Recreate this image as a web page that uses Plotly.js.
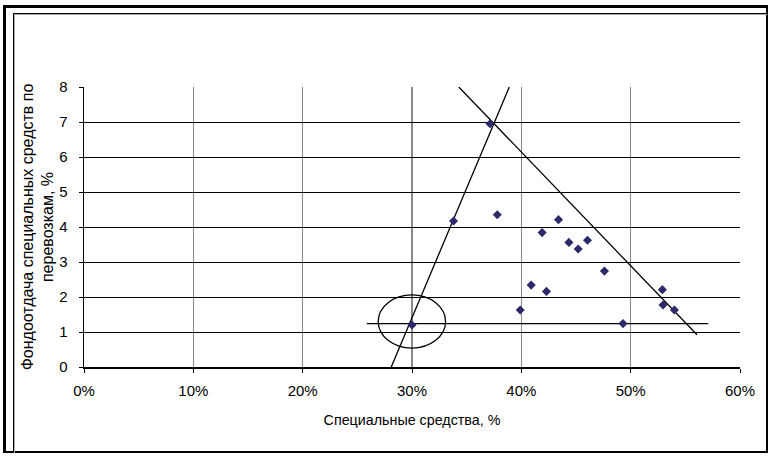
<!DOCTYPE html>
<html>
<head>
<meta charset="utf-8">
<script src="https://cdn.plot.ly/plotly-3.0.1.min.js"></script>
<style>
  html, body { margin: 0; padding: 0; background: #fff; }
  #wrap { position: relative; width: 770px; height: 457px; overflow: hidden; }
  #chart { position: absolute; left: 0; top: 0; width: 770px; height: 457px; }
  .frame { position: absolute; pointer-events: none; box-sizing: border-box; }
</style>
</head>
<body>
<div id="wrap">
  <div id="chart"></div>
  <div class="frame" style="left:3px;top:5px;width:765px;height:448px;border:3px solid #000;border-right-width:2px;border-bottom-width:2px;"></div>
  <div class="frame" style="left:13px;top:13px;width:754px;height:440px;border-left:1px solid #000;border-top:1px solid #000;box-shadow:inset 1px 1px 0 #aaa;"></div>
</div>
<script>
// Scatter data: special assets share (fraction) vs. asset return on transport
var shareX = [0.3714, 0.338, 0.378, 0.434, 0.419, 0.4435, 0.452, 0.4605, 0.476, 0.409, 0.423, 0.399, 0.529, 0.5296, 0.540, 0.493, 0.300];
var returnY = [6.95, 4.17, 4.35, 4.21, 3.84, 3.56, 3.37, 3.62, 2.74, 2.34, 2.16, 1.63, 2.21, 1.77, 1.63, 1.24, 1.20];

// Guide lines drawn over the scatter
var steepLineX = [0.281, 0.389];
var steepLineY = [0, 8];
var fallLineX = [0.3428, 0.5607];
var fallLineY = [8, 0.92];
var levelLineX = [0.2587, 0.571];
var levelLineY = [1.24, 1.24];

// Ellipse around the highlighted point
var ellipseX = [0.2691, 0.3307];
var ellipseY = [0.54, 2.06];

// Axis ticks
var xTicks = [0, 0.1, 0.2, 0.3, 0.4, 0.5, 0.6];
var xTickText = ['0%', '10%', '20%', '30%', '40%', '50%', '60%'];
var yTicks = [0, 1, 2, 3, 4, 5, 6, 7, 8];

var fam = 'Liberation Sans, Arial, sans-serif';
var tickFont = {family: fam, size: 15, color: '#000'};
var xTitleFont = {family: fam, size: 14.3, color: '#000'};
var yTitleFont = {family: fam, size: 16, color: '#000'};

var traces = [
  {x: steepLineX, y: steepLineY, mode: 'lines', line: {color: '#000', width: 1.3}, hoverinfo: 'skip'},
  {x: fallLineX, y: fallLineY, mode: 'lines', line: {color: '#000', width: 1.3}, hoverinfo: 'skip'},
  {x: levelLineX, y: levelLineY, mode: 'lines', line: {color: '#000', width: 1.3}, hoverinfo: 'skip'},
  {x: shareX, y: returnY, mode: 'markers', type: 'scatter',
   marker: {symbol: 'diamond', size: 7, color: '#2b2a6b'}}
];

var layout = {
  width: 770, height: 457,
  margin: {l: 84, r: 30, t: 87, b: 90},
  paper_bgcolor: '#fff', plot_bgcolor: '#fff',
  showlegend: false,
  font: tickFont,
  xaxis: {
    range: [0, 0.6], tickvals: xTicks, ticktext: xTickText,
    showgrid: true, gridcolor: '#8a8a8a', gridwidth: 1.5,
    zeroline: false, showline: true, linecolor: '#000', linewidth: 1.5,
    ticks: 'outside', ticklen: 4, tickcolor: '#000', ticklabelstandoff: 5,
    tickfont: tickFont,
    title: {text: 'Специальные средства, %', font: xTitleFont, standoff: 17}
  },
  yaxis: {
    range: [0, 8], tickvals: yTicks,
    showgrid: true, gridcolor: '#000', gridwidth: 1,
    zeroline: false, showline: true, linecolor: '#000', linewidth: 1.5,
    ticks: 'outside', ticklen: 4, tickcolor: '#000', ticklabelstandoff: 8,
    tickfont: tickFont,
    title: {text: 'Фондоотдача специальных средств по<br>перевозкам, %', font: yTitleFont, standoff: 1}
  },
  shapes: [
    {type: 'circle', xref: 'x', yref: 'y', x0: ellipseX[0], x1: ellipseX[1], y0: ellipseY[0], y1: ellipseY[1],
     line: {color: '#000', width: 1.3}}
  ]
};

Plotly.newPlot('chart', traces, layout, {staticPlot: true, displayModeBar: false});
</script>
</body>
</html>
